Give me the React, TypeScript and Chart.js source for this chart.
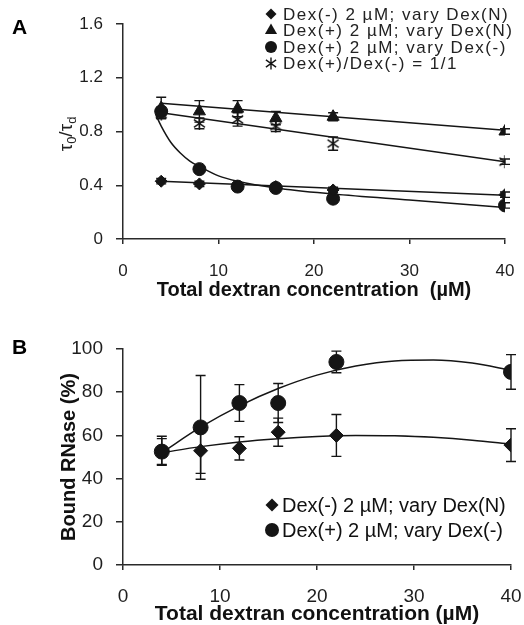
import React, { useEffect, useRef } from 'react';
import { Chart, registerables } from 'chart.js';

Chart.register(...registerables);

const FONT = '"Liberation Sans", Arial, Helvetica, sans-serif';
const INK = '#151515';
const AXIS = '#2a2a2a';

// ---------- Panel A data ----------
const concA = [4, 8, 12, 16, 22, 40];
const dexMinusVaryN_A = [0.43, 0.41, 0.39, 0.39, 0.365, 0.33];
const dexMinusVaryN_A_err = [0.02, 0.02, 0.02, 0.02, 0.02, 0.02];
const dexPlusVaryN_A = [0.975, 0.95, 0.97, 0.9, 0.91, 0.8];
const dexPlusVaryN_A_err = [0.08, 0.08, 0.06, 0.05, 0.03, 0.02];
const dexPlusVaryMinus_A = [0.95, 0.52, 0.39, 0.38, 0.3, 0.25];
const dexPlusVaryMinus_A_err = [0.03, 0.02, 0.02, 0.02, 0.02, 0.02];
const ratio11_A = [0.93, 0.86, 0.89, 0.84, 0.71, 0.575];
const ratio11_A_err = [0.03, 0.04, 0.05, 0.04, 0.05, 0.02];

const fitLineX_A = [4, 40];
const fitDexMinusVaryN_A = [0.43, 0.325];
const fitDexPlusVaryN_A = [1.01, 0.81];
const fitRatio11_A = [0.94, 0.575];
const fitCurveX_A = [3.4, 4, 5, 6, 7, 8, 10, 12, 16, 22, 30, 40];
const fitDexPlusVaryMinus_A = [0.93, 0.84, 0.72, 0.64, 0.58, 0.54, 0.47, 0.43, 0.38, 0.335, 0.29, 0.235];

const ticksX = [0, 10, 20, 30, 40];
const ticksY_A = [0, 0.4, 0.8, 1.2, 1.6];

const legendA = [
  'Dex(-) 2 µM; vary Dex(N)',
  'Dex(+) 2 µM; vary Dex(N)',
  'Dex(+) 2 µM; vary Dex(-)',
  'Dex(+)/Dex(-) = 1/1',
];

// ---------- Panel B data ----------
const concB = [4, 8, 12, 16, 22, 40];
const dexMinusVaryN_B = [52.9, 52.9, 54, 61.5, 60, 55.5];
const dexMinusVaryN_B_err = [6.7, 10.5, 5.4, 6.5, 9.7, 7.6];
const dexPlusVaryMinus_B = [52.5, 63.7, 75, 75, 94, 89.4];
const dexPlusVaryMinus_B_err = [6, 24, 8.5, 9, 5, 8];
const fitX_B = [4, 8, 12, 16, 20, 24, 28, 32, 36, 40];
const fitDexMinusVaryN_B = [52, 54.8, 57, 58.5, 59.5, 60, 59.8, 59.1, 57.8, 55.9];
const fitDexPlusVaryMinus_B = [52, 63.8, 73.7, 81.7, 87.9, 92.1, 94.5, 94.9, 93.5, 90.2];
const ticksY_B = [0, 20, 40, 60, 80, 100];

const legendB = ['Dex(-) 2 µM; vary Dex(N)', 'Dex(+) 2 µM; vary Dex(-)'];

const pts = (xs: number[], ys: number[]) => xs.map((x, i) => ({ x, y: ys[i] }));

function drawMarker(ctx: CanvasRenderingContext2D, style: string, x: number, y: number, r: number) {
  ctx.save();
  ctx.fillStyle = INK;
  ctx.strokeStyle = INK;
  ctx.beginPath();
  if (style === 'diamond') {
    ctx.moveTo(x, y - r);
    ctx.lineTo(x + r, y);
    ctx.lineTo(x, y + r);
    ctx.lineTo(x - r, y);
    ctx.closePath();
    ctx.fill();
  } else if (style === 'triangle') {
    ctx.moveTo(x, y - r);
    ctx.lineTo(x + r * 0.866, y + r * 0.5);
    ctx.lineTo(x - r * 0.866, y + r * 0.5);
    ctx.closePath();
    ctx.fill();
  } else if (style === 'circle') {
    ctx.arc(x, y, r, 0, Math.PI * 2);
    ctx.fill();
  } else if (style === 'asterisk') {
    ctx.lineWidth = 1.4;
    ctx.moveTo(x, y - r);
    ctx.lineTo(x, y + r);
    ctx.moveTo(x - r * 0.85, y - r * 0.6);
    ctx.lineTo(x + r * 0.85, y + r * 0.6);
    ctx.moveTo(x - r * 0.85, y + r * 0.6);
    ctx.lineTo(x + r * 0.85, y - r * 0.6);
    ctx.stroke();
  }
  ctx.restore();
}

const errorBarsPlugin = {
  id: 'errorBars',
  beforeDatasetsDraw(chart: any) {
    const ctx = chart.ctx;
    const ys = chart.scales.y;
    chart.data.datasets.forEach((ds: any, i: number) => {
      if (!ds.errors) return;
      const meta = chart.getDatasetMeta(i);
      ctx.save();
      ctx.strokeStyle = INK;
      ctx.lineWidth = 1.4;
      meta.data.forEach((el: any, j: number) => {
        const v = ds.data[j].y;
        const e = ds.errors[j];
        const yt = ys.getPixelForValue(v + e);
        const yb = ys.getPixelForValue(v - e);
        const x = el.x;
        const cap = ds.capHalf || 5;
        ctx.beginPath();
        ctx.moveTo(x, yt);
        ctx.lineTo(x, yb);
        ctx.moveTo(x - cap, yt);
        ctx.lineTo(x + cap, yt);
        ctx.moveTo(x - cap, yb);
        ctx.lineTo(x + cap, yb);
        ctx.stroke();
      });
      ctx.restore();
    });
  },
};

function fitDs(xs: number[], ys: number[], curve = false) {
  return {
    data: pts(xs, ys),
    showLine: true,
    pointRadius: 0,
    borderColor: INK,
    borderWidth: 1.5,
    cubicInterpolationMode: curve ? 'monotone' : 'default',
    order: 5,
  };
}

function markDs(xs: number[], ys: number[], errs: number[], style: any, r: number, cap = 5) {
  return {
    data: pts(xs, ys),
    showLine: false,
    pointStyle: style,
    pointRadius: r,
    backgroundColor: INK,
    borderColor: INK,
    borderWidth: 1,
    errors: errs,
    capHalf: cap,
    order: 1,
  };
}

function zeroPad(s: any) {
  s.paddingLeft = 0;
  s.paddingRight = 0;
  s.paddingTop = 0;
  s.paddingBottom = 0;
}

function axisCommon(tickValues: number[], tickSize: number, pad: number, tickLen: number) {
  return {
    afterBuildTicks: (s: any) => {
      s.ticks = tickValues.map((v) => ({ value: v }));
    },
    ticks: {
      font: { family: FONT, size: tickSize },
      color: '#1e1e1e',
      padding: pad,
      maxRotation: 0,
      autoSkip: false,
    },
    grid: { drawOnChartArea: false, drawTicks: true, tickLength: tickLen, color: AXIS, lineWidth: 1.5 },
    border: { display: true, color: AXIS, width: 1.5 },
  };
}

export default function App() {
  const refA = useRef<HTMLCanvasElement>(null);
  const refB = useRef<HTMLCanvasElement>(null);

  useEffect(() => {
    const ast = document.createElement('canvas');
    ast.width = 15;
    ast.height = 15;
    drawMarker(ast.getContext('2d')!, 'asterisk', 7.5, 7.5, 6.5);

    const decoA = {
      id: 'decoA',
      afterDraw(chart: any) {
        const ctx = chart.ctx as CanvasRenderingContext2D;
        ctx.save();
        ctx.fillStyle = '#000';
        ctx.font = `bold 21px ${FONT}`;
        ctx.textBaseline = 'middle';
        ctx.textAlign = 'left';
        ctx.fillText('A', 12, 28);
        const styles = ['diamond', 'triangle', 'circle', 'asterisk'];
        const radii = [5.5, 7, 6, 6];
        const rows = [14, 30.5, 47, 63.5];
        ctx.font = `17px ${FONT}`;
        (ctx as any).letterSpacing = '1.5px';
        legendA.forEach((t, i) => {
          drawMarker(ctx, styles[i], 271, rows[i], radii[i]);
          ctx.fillStyle = '#222';
          ctx.fillText(t, 283, rows[i] + 1);
        });
        (ctx as any).letterSpacing = '0px';
        ctx.translate(62, 134);
        ctx.rotate(-Math.PI / 2);
        const big = `19px ${FONT}`;
        const small = `13px ${FONT}`;
        const segs: [string, string, number][] = [
          ['τ', big, 0],
          ['0', small, 4],
          ['/τ', big, 0],
          ['d', small, 4],
        ];
        let total = 0;
        segs.forEach(([t, f]) => {
          ctx.font = f;
          total += ctx.measureText(t).width;
        });
        let x = -total / 2;
        ctx.textBaseline = 'alphabetic';
        ctx.fillStyle = '#222';
        segs.forEach(([t, f, dy]) => {
          ctx.font = f;
          ctx.fillText(t, x, 10 + dy);
          x += ctx.measureText(t).width;
        });
        ctx.restore();
      },
    };

    const decoB = {
      id: 'decoB',
      afterDraw(chart: any) {
        const ctx = chart.ctx as CanvasRenderingContext2D;
        ctx.save();
        ctx.fillStyle = '#000';
        ctx.font = `bold 21px ${FONT}`;
        ctx.textBaseline = 'middle';
        ctx.textAlign = 'left';
        ctx.fillText('B', 12, 48);
        const styles = ['diamond', 'circle'];
        const radii = [6.5, 7];
        const rows = [205, 230];
        ctx.font = `20px ${FONT}`;
        legendB.forEach((t, i) => {
          drawMarker(ctx, styles[i], 272, rows[i], radii[i]);
          ctx.fillStyle = '#111';
          ctx.fillText(t, 282, rows[i] + 1);
        });
        ctx.restore();
      },
    };

    const chartA = new Chart(refA.current!, {
      type: 'scatter',
      data: {
        datasets: [
          fitDs(fitLineX_A, fitDexMinusVaryN_A),
          fitDs(fitLineX_A, fitDexPlusVaryN_A),
          fitDs(fitCurveX_A, fitDexPlusVaryMinus_A, true),
          fitDs(fitLineX_A, fitRatio11_A),
          markDs(concA, dexMinusVaryN_A, dexMinusVaryN_A_err, 'rectRot', 6),
          markDs(concA, dexPlusVaryN_A, dexPlusVaryN_A_err, 'triangle', 7),
          markDs(concA, dexPlusVaryMinus_A, dexPlusVaryMinus_A_err, 'circle', 6.5),
          markDs(concA, ratio11_A, ratio11_A_err, ast, 7),
        ] as any,
      },
      options: {
        responsive: false,
        animation: false,
        events: [],
        layout: { padding: { left: 0, right: 19, top: 24, bottom: 0 } },
        plugins: { legend: { display: false }, tooltip: { enabled: false } },
        scales: {
          x: {
            type: 'linear',
            min: 0,
            max: 40,
            afterFit: (s: any) => {
              s.height = 61;
              zeroPad(s);
            },
            ...axisCommon(ticksX, 17, 17, 5),
            title: {
              display: true,
              text: 'Total dextran concentration  (µM)',
              color: '#111',
              font: { family: FONT, size: 20, weight: 'bold', lineHeight: 1 },
              padding: { top: 0, bottom: 0 },
            },
          },
          y: {
            type: 'linear',
            min: 0,
            max: 1.6,
            afterFit: (s: any) => {
              s.width = 123;
              zeroPad(s);
            },
            ...axisCommon(ticksY_A, 17, 13, 7),
            ticks: {
              font: { family: FONT, size: 17 },
              color: '#1e1e1e',
              padding: 13,
              autoSkip: false,
              callback: (v: any) => (Number(v) === 0 ? '0' : Number(v).toFixed(1)),
            },
          },
        },
      } as any,
      plugins: [errorBarsPlugin, decoA],
    });

    const chartB = new Chart(refB.current!, {
      type: 'scatter',
      data: {
        datasets: [
          fitDs(fitX_B, fitDexMinusVaryN_B, true),
          fitDs(fitX_B, fitDexPlusVaryMinus_B, true),
          markDs(concB, dexMinusVaryN_B, dexMinusVaryN_B_err, 'rectRot', 7, 5),
          markDs(concB, dexPlusVaryMinus_B, dexPlusVaryMinus_B_err, 'circle', 7.5, 5),
        ] as any,
      },
      options: {
        responsive: false,
        animation: false,
        events: [],
        layout: { padding: { left: 0, right: 13, top: 49, bottom: 0 } },
        plugins: { legend: { display: false }, tooltip: { enabled: false } },
        scales: {
          x: {
            type: 'linear',
            min: 0,
            max: 40,
            afterFit: (s: any) => {
              s.height = 60;
              zeroPad(s);
            },
            ...axisCommon(ticksX, 19, 15, 5),
            title: {
              display: true,
              text: 'Total dextran concentration (µM)',
              color: '#111',
              font: { family: FONT, size: 21, weight: 'bold', lineHeight: 1 },
              padding: { top: 0, bottom: 0 },
            },
          },
          y: {
            type: 'linear',
            min: 0,
            max: 100,
            afterFit: (s: any) => {
              s.width = 123;
              zeroPad(s);
            },
            ...axisCommon(ticksY_B, 19, 13, 7),
            title: {
              display: true,
              text: 'Bound RNase (%)',
              color: '#111',
              font: { family: FONT, size: 20, weight: 'bold', lineHeight: 1 },
              padding: { top: 59, bottom: 0 },
            },
          },
        },
      } as any,
      plugins: [errorBarsPlugin, decoB],
    });

    return () => {
      chartA.destroy();
      chartB.destroy();
    };
  }, []);

  return (
    <div style={{ position: 'absolute', left: 0, top: 0, width: 524, height: 625, background: '#fff' }}>
      <canvas ref={refA} width={524} height={300} style={{ position: 'absolute', left: 0, top: 0, width: 524, height: 300 }} />
      <canvas ref={refB} width={524} height={325} style={{ position: 'absolute', left: 0, top: 300, width: 524, height: 325 }} />
    </div>
  );
}
